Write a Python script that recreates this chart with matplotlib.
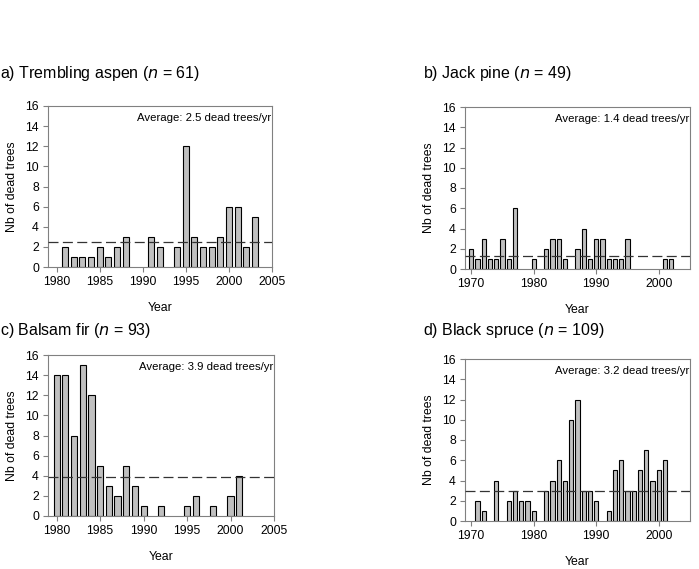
import numpy as np
import matplotlib
matplotlib.use("Agg")
import matplotlib.pyplot as plt

plt.rcParams["font.family"] = ["Liberation Sans", "DejaVu Sans"]

# a) Trembling aspen
aspen_years = [1981, 1982, 1983, 1984, 1985, 1986, 1987, 1988, 1991, 1992,
               1994, 1995, 1996, 1997, 1998, 1999, 2000, 2001, 2002, 2003]
aspen_dead = [2, 1, 1, 1, 2, 1, 2, 3, 3, 2, 2, 12, 3, 2, 2, 3, 6, 6, 2, 5]
aspen_avg = 2.5

# b) Jack pine
pine_years = [1970, 1971, 1972, 1973, 1974, 1975, 1976, 1977, 1980, 1982,
              1983, 1984, 1985, 1987, 1988, 1989, 1990, 1991, 1992, 1993,
              1994, 1995, 2001, 2002]
pine_dead = [2, 1, 3, 1, 1, 3, 1, 6, 1, 2, 3, 3, 1, 2, 4, 1, 3, 3, 1, 1,
             1, 3, 1, 1]
pine_avg = 1.3

# c) Balsam fir
fir_years = [1980, 1981, 1982, 1983, 1984, 1985, 1986, 1987, 1988, 1989,
             1990, 1992, 1995, 1996, 1998, 2000, 2001]
fir_dead = [14, 14, 8, 15, 12, 5, 3, 2, 5, 3, 1, 1, 1, 2, 1, 2, 4]
fir_avg = 3.9

# d) Black spruce
spruce_years = [1971, 1972, 1974, 1976, 1977, 1978, 1979, 1980, 1982, 1983,
                1984, 1985, 1986, 1987, 1988, 1989, 1990, 1992, 1993, 1994,
                1995, 1996, 1997, 1998, 1999, 2000, 2001]
spruce_dead = [2, 1, 4, 2, 3, 2, 2, 1, 3, 4, 6, 4, 10, 12, 3, 3, 2, 1, 5, 6,
               3, 3, 5, 7, 4, 5, 6]
spruce_avg = 3.0

panels = [
    ("a) Trembling aspen (", "61", aspen_years, aspen_dead, aspen_avg, "2.5",
     (1979, 2005), np.arange(1980, 2006, 5)),
    ("b) Jack pine (", "49", pine_years, pine_dead, pine_avg, "1.4",
     (1969, 2005), np.arange(1970, 2001, 10)),
    ("c) Balsam fir (", "93", fir_years, fir_dead, fir_avg, "3.9",
     (1979, 2005), np.arange(1980, 2006, 5)),
    ("d) Black spruce (", "109", spruce_years, spruce_dead, spruce_avg, "3.2",
     (1969, 2005), np.arange(1970, 2001, 10)),
]

W, H = 699, 569
# axes boxes in pixels: left, top, right, bottom
boxes = [(48, 106, 272, 267), (465, 107, 690, 269),
         (48, 355, 274, 516), (465, 359, 690, 521)]
title_pos = [(0, 74), (423, 74), (0, 330), (423, 330)]

fig = plt.figure(figsize=(W / 100, H / 100), dpi=100)
spine_col = "#808080"

for (title, n, years, dead, avg, avg_txt, xlim, xticks), box, tpos in zip(panels, boxes, title_pos):
    l, t, r, b = box
    ax = fig.add_axes([l / W, 1 - b / H, (r - l) / W, (b - t) / H])
    ax.bar(years, dead, width=0.7, color="#c0c0c0", edgecolor="black", lw=0.8, zorder=2)
    ax.axhline(avg, color="#333333", lw=0.9, ls=(0, (8, 3.5)), zorder=3)
    ax.set_xlim(*xlim)
    ax.set_ylim(0, 16)
    ax.set_yticks(np.arange(0, 17, 2))
    ax.set_xticks(xticks)
    ax.tick_params(labelsize=8.8, color=spine_col, length=3.5, width=0.8, pad=3)
    for sp in ax.spines.values():
        sp.set_color(spine_col)
        sp.set_linewidth(0.8)
    ax.set_xlabel("Year", fontsize=8.8, labelpad=10)
    ax.set_ylabel("Nb of dead trees", fontsize=8.8, labelpad=5)
    ax.text(0.995, 0.955, f"Average: {avg_txt} dead trees/yr", transform=ax.transAxes,
            ha="right", va="top", fontsize=8.2)
    fig.text(tpos[0] / W, 1 - tpos[1] / H,
             title + r"$\mathit{n}$" + f" = {n})", ha="left", va="center", fontsize=11.5)

fig.savefig("out.png", dpi=100)
